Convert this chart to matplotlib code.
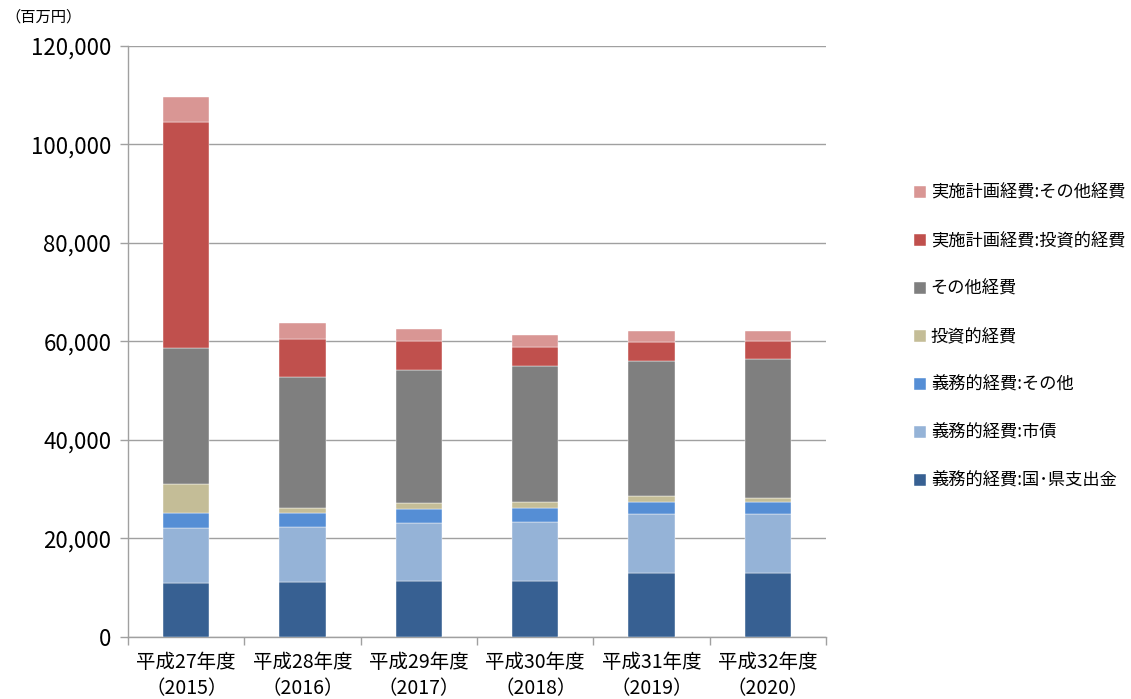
import numpy as np
import matplotlib
matplotlib.use("Agg")
import matplotlib.pyplot as plt
from matplotlib.ticker import FuncFormatter

plt.rcParams['font.family'] = ['Noto Sans CJK JP', 'DejaVu Sans']

# categories
years = ['平成27年度\n（2015）', '平成28年度\n（2016）', '平成29年度\n（2017）',
         '平成30年度\n（2018）', '平成31年度\n（2019）', '平成32年度\n（2020）']

# series values (百万円), bottom to top
gimu_kuni = [11000, 11100, 11400, 11400, 12900, 12900]
gimu_shisai = [11100, 11200, 11700, 11900, 12000, 12000]
gimu_other = [3100, 2900, 2900, 2900, 2500, 2500]
toshi = [5800, 1000, 1200, 1300, 1300, 900]
sonota = [27600, 26500, 27000, 27600, 27400, 28100]
jisshi_toshi = [46000, 7900, 5900, 3800, 3800, 3700]
jisshi_other = [5100, 3100, 2500, 2500, 2300, 2100]

series = [
    ('義務的経費:国･県支出金', gimu_kuni, '#376092'),
    ('義務的経費:市債', gimu_shisai, '#95B3D7'),
    ('義務的経費:その他', gimu_other, '#558ED5'),
    ('投資的経費', toshi, '#C4BD97'),
    ('その他経費', sonota, '#7F7F7F'),
    ('実施計画経費:投資的経費', jisshi_toshi, '#C0504D'),
    ('実施計画経費:その他経費', jisshi_other, '#D99694'),
]

fig = plt.figure(figsize=(11.31, 6.99), dpi=100)
ax = fig.add_axes([0.1132, 0.0887, 0.6172, 0.8455])

x = np.arange(len(years))
bottom = np.zeros(len(years))
handles = []
for name, vals, col in series:
    b = ax.bar(x, vals, 0.4, bottom=bottom, color=col, label=name,
               edgecolor='white', linewidth=0.3, zorder=3)
    bottom += np.array(vals)
    handles.append(b)

ax.set_ylim(0, 120000)
ax.set_xlim(-0.5, len(years) - 0.5)
ax.set_yticks(np.arange(0, 120001, 20000))
ax.yaxis.set_major_formatter(FuncFormatter(lambda v, p: f'{int(v):,}'))
ax.set_xticks(x)
ax.set_xticklabels(years, fontsize=14, linespacing=1.3)
ax.set_xticks(np.arange(-0.5, len(years), 1), minor=True)
ax.tick_params(axis='x', which='major', length=0, pad=11)
ax.tick_params(axis='x', which='minor', length=6, color='#A0A0A0', width=1)
ax.tick_params(axis='y', length=6, color='#A0A0A0', width=1, labelsize=16, pad=6)

ax.grid(axis='y', color='#A0A0A0', linewidth=1, zorder=0)
for s in ['top', 'right']:
    ax.spines[s].set_visible(False)
for s in ['left', 'bottom']:
    ax.spines[s].set_color('#A0A0A0')
    ax.spines[s].set_linewidth(1)

fig.text(0.005, 0.975, '（百万円）', fontsize=11, va='center', ha='left')

leg = fig.legend(handles[::-1], [s[0] for s in series][::-1],
                 loc='upper left', bbox_to_anchor=(0.794, 0.759),
                 frameon=False, fontsize=12.4, handlelength=0.7, handleheight=0.7,
                 handletextpad=0.3, labelspacing=1.74)

fig.savefig('out.png', dpi=100)
